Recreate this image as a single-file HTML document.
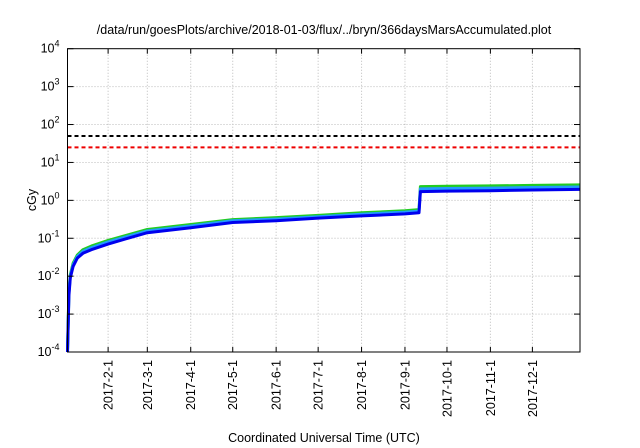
<!DOCTYPE html>
<html><head><meta charset="utf-8"><style>
body{margin:0;background:#fff}
svg{display:block;font-family:"Liberation Sans",sans-serif}
</style></head><body>
<svg id="c" width="640" height="448">
<text x="324" y="34" font-size="12.5" text-anchor="middle">/data/run/goesPlots/archive/2018-01-03/flux/../bryn/366daysMarsAccumulated.plot</text>
<text x="324" y="442" font-size="12.5" text-anchor="middle">Coordinated Universal Time (UTC)</text>
<text x="0" y="0" font-size="12.5" text-anchor="middle" transform="translate(36,200) rotate(-90)">cGy</text>
<g id="grid"></g>
<g id="marks"></g>
<g id="axes"></g>
</svg>
<script>
const xTicks=["2017-2-1","2017-3-1","2017-4-1","2017-5-1","2017-6-1","2017-7-1","2017-8-1","2017-9-1","2017-10-1","2017-11-1","2017-12-1"];
const yExps=[-4,-3,-2,-1,0,1,2,3,4];
const dates=["2017-01-03","2017-01-04","2017-01-05","2017-01-07","2017-01-10","2017-01-14","2017-01-20","2017-02-01","2017-02-15","2017-03-01","2017-04-01","2017-05-01","2017-06-01","2017-07-01","2017-08-01","2017-09-01","2017-09-11","2017-09-12","2017-10-01","2017-11-01","2017-12-01","2018-01-04"];
const blue=[0.0001,0.003,0.009,0.018,0.03,0.04,0.05,0.07,0.1,0.14,0.19,0.26,0.29,0.34,0.39,0.44,0.47,1.7,1.75,1.8,1.88,1.95];
const cyan=[0.0001,0.0035,0.01,0.02,0.033,0.045,0.056,0.08,0.112,0.155,0.21,0.29,0.32,0.37,0.43,0.49,0.52,2.0,2.05,2.1,2.18,2.25];
const green=[0.0001,0.004,0.011,0.022,0.036,0.05,0.062,0.088,0.122,0.17,0.23,0.31,0.35,0.4,0.47,0.53,0.57,2.3,2.35,2.4,2.48,2.55];
const hLines=[50,25];
const L=67.5,R=580,T=48.7,B=352;
const d0=Date.parse("2017-01-03"),d1=Date.parse("2018-01-04");
const x=d=>L+(Date.parse(d)-d0)/(d1-d0)*(R-L);
const y=v=>B-(Math.log10(v)+4)/8*(B-T);
const NS="http://www.w3.org/2000/svg";
function mk(p,t,a){const e=document.createElementNS(NS,t);for(const k in a)e.setAttribute(k,a[k]);p.appendChild(e);return e;}
const g=document.getElementById('grid'),m=document.getElementById('marks'),ax=document.getElementById('axes');
xTicks.forEach(t=>{const p=t.split('-');const ds=p[0]+'-'+p[1].padStart(2,'0')+'-'+p[2].padStart(2,'0');const xx=x(ds);
 const l=mk(g,'line',{x1:xx,x2:xx,y1:T,y2:B,stroke:'#bbb','stroke-dasharray':'1,2','stroke-width':1});
 
 mk(ax,'line',{x1:xx,x2:xx,y1:B,y2:B-5,stroke:'#000'});mk(ax,'line',{x1:xx,x2:xx,y1:T,y2:T+5,stroke:'#000'});
 const tx=mk(ax,'text',{x:0,y:0,'font-size':12.5,'text-anchor':'end',transform:`translate(${xx+4.5},360) rotate(-90)`});tx.textContent=t;
 });
yExps.forEach(e=>{const yy=y(Math.pow(10,e));
 if(e>-4&&e<4){const l=mk(g,'line',{x1:L,x2:R,y1:yy,y2:yy,stroke:'#bbb','stroke-dasharray':'1,2'});}
 mk(ax,'line',{x1:L,x2:L+6,y1:yy,y2:yy,stroke:'#000'});mk(ax,'line',{x1:R,x2:R-6,y1:yy,y2:yy,stroke:'#000'});
 const tx=mk(ax,'text',{x:L-8,y:yy+4,'font-size':12.5,'text-anchor':'end'});tx.innerHTML='10<tspan dy="-6" font-size="9">'+e+'</tspan>';
 });
const hc=['#000','#e00'];
hLines.forEach((v,i)=>{const l=mk(m,'line',{x1:L,x2:R,y1:y(v),y2:y(v),stroke:hc[i],'stroke-width':2,'stroke-dasharray':'4,3'});
 });
[[green,'#2c2'],[cyan,'#29f'],[blue,'#00e']].forEach(([s,c])=>{const pts=dates.map((d,i)=>x(d).toFixed(1)+','+y(s[i]).toFixed(1)).join(' ');
 const pl=mk(m,'polyline',{points:pts,fill:'none',stroke:c,'stroke-width':3,'stroke-linejoin':'round'});
 });
const f=mk(ax,'rect',{x:L,y:T,width:R-L,height:B-T,fill:'none',stroke:'#000','stroke-width':1});

</script>
</body></html>
